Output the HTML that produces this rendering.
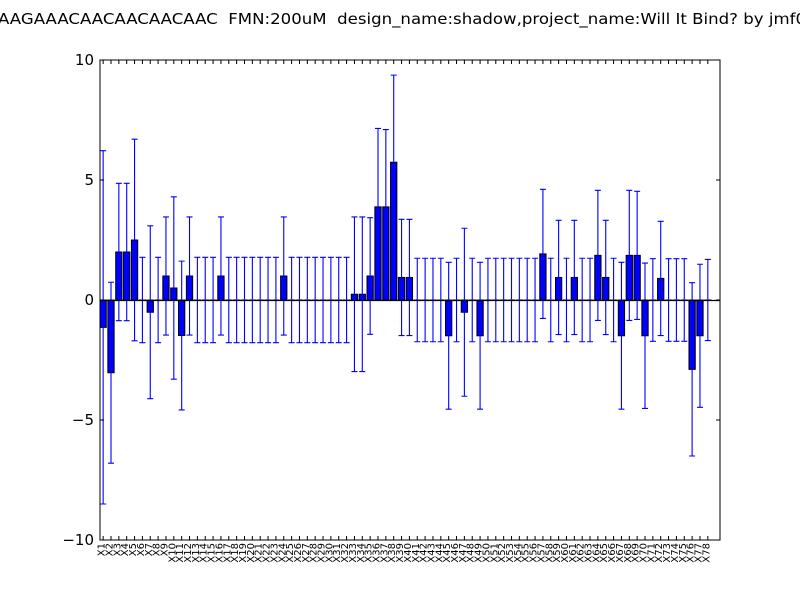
<!DOCTYPE html>
<html><head><meta charset="utf-8"><style>
html,body{margin:0;padding:0;background:#fff;}
svg{display:block;}
</style></head><body>
<svg id="chart" width="800" height="600" viewBox="0 0 800 600" xmlns="http://www.w3.org/2000/svg" font-family="DejaVu Sans, Liberation Sans, sans-serif">
<rect width="800" height="600" fill="#fff"/>
<text x="-2" y="24" font-size="15" textLength="808" lengthAdjust="spacingAndGlyphs" xml:space="preserve">AAGAAACAACAACAACAAC  FMN:200uM  design_name:shadow,project_name:Will It Bind? by jmf0</text>
<g id="plot"></g>
</svg>
<script>
const values = [-1.14,-3.03,2.0,2.0,2.5,0,-0.51,0,1.0,0.5,-1.48,1.0,0,0,0,1.0,0,0,0,0,0,0,0,1.0,0,0,0,0,0,0,0,0,0.24,0.24,1.0,3.88,3.88,5.74,0.94,0.94,0,0,0,0,-1.49,0,-0.51,0,-1.49,0,0,0,0,0,0,0,1.92,0,0.94,0,0.94,0,0,1.86,0.94,0,-1.49,1.86,1.86,-1.49,0,0.9,0,0,0,-2.89,-1.49,0];
const errors = [7.36,3.77,2.86,2.86,4.2,1.78,3.6,1.78,2.46,3.8,3.1,2.46,1.78,1.78,1.78,2.46,1.78,1.78,1.78,1.78,1.78,1.78,1.78,2.46,1.78,1.78,1.78,1.78,1.78,1.78,1.78,1.78,3.22,3.22,2.43,3.27,3.22,3.63,2.42,2.42,1.74,1.74,1.74,1.74,3.06,1.74,3.5,1.74,3.06,1.74,1.74,1.74,1.74,1.74,1.74,1.74,2.69,1.74,2.38,1.74,2.38,1.74,1.74,2.71,2.38,1.74,3.06,2.71,2.67,3.03,1.72,2.38,1.72,1.72,1.72,3.61,2.98,1.69];
const categories = values.map((v,i)=>'X'+(i+1));
const yTicks = [-10,-5,0,5,10];
const yTickLabels = ['\u221210','\u22125','0','5','10'];

const L=100,R=720,T=60,B=540, xMin=0, xMax=78.95, yMin=-10, yMax=10, barW=0.8;
const xs = v => L + (v-xMin)/(xMax-xMin)*(R-L);
const ys = v => B - (v-yMin)/(yMax-yMin)*(B-T);
const NS='http://www.w3.org/2000/svg';
const g=document.getElementById('plot');
function mk(tag,attrs,parent){const e=document.createElementNS(NS,tag);for(const k in attrs)e.setAttribute(k,attrs[k]);(parent||g).appendChild(e);return e;}

const bars=mk('g',{});


const errs=mk('g',{});


values.forEach((v,i)=>{
  const x0=xs(i), x1=xs(i+barW);
  const y0=ys(Math.max(v,0)), y1=ys(Math.min(v,0));
  const r=mk('rect',{x:x0,y:y0,width:x1-x0,height:Math.max(y1-y0,0.01),fill:'#0000ff',stroke:'#000','stroke-width':1},bars);
  
  
  const cx=xs(i+barW/2), yt=ys(v+errors[i]), yb=ys(v-errors[i]);
  const e=mk('path',{d:`M${cx},${yt}V${yb}M${cx-3},${yt}H${cx+3}M${cx-3},${yb}H${cx+3}`,stroke:'#0000ff','stroke-width':1.1,fill:'none'},errs);
  
  
});
const zl=mk('line',{x1:L,x2:R,y1:ys(0)+0.5,y2:ys(0)+0.5,stroke:'#000','stroke-width':1.2});



const frame=mk('rect',{x:L,y:T,width:R-L,height:B-T,fill:'none',stroke:'#000','stroke-width':1});



const yax=mk('g',{});


yTicks.forEach((t,i)=>{
  const y=ys(t);
  mk('path',{d:`M${L},${y}h4M${R},${y}h-4`,stroke:'#000','stroke-width':1},yax);
  const tx=mk('text',{x:L-6,y:y+5,'text-anchor':'end','font-size':15},yax);
  tx.textContent=yTickLabels[i];
  
  
});
const xax=mk('g',{});


categories.forEach((c,i)=>{
  const x=xs(i+barW/2);
  mk('path',{d:`M${x},${B}v-4M${x},${T}v4`,stroke:'#000','stroke-width':1},xax);
  const tx=mk('text',{x:0,y:0,'text-anchor':'end','font-size':10,transform:`translate(${x+1.5},${B+3}) rotate(-90)`},xax);
  tx.textContent=c;
  
  
});
</script>
</body></html>
